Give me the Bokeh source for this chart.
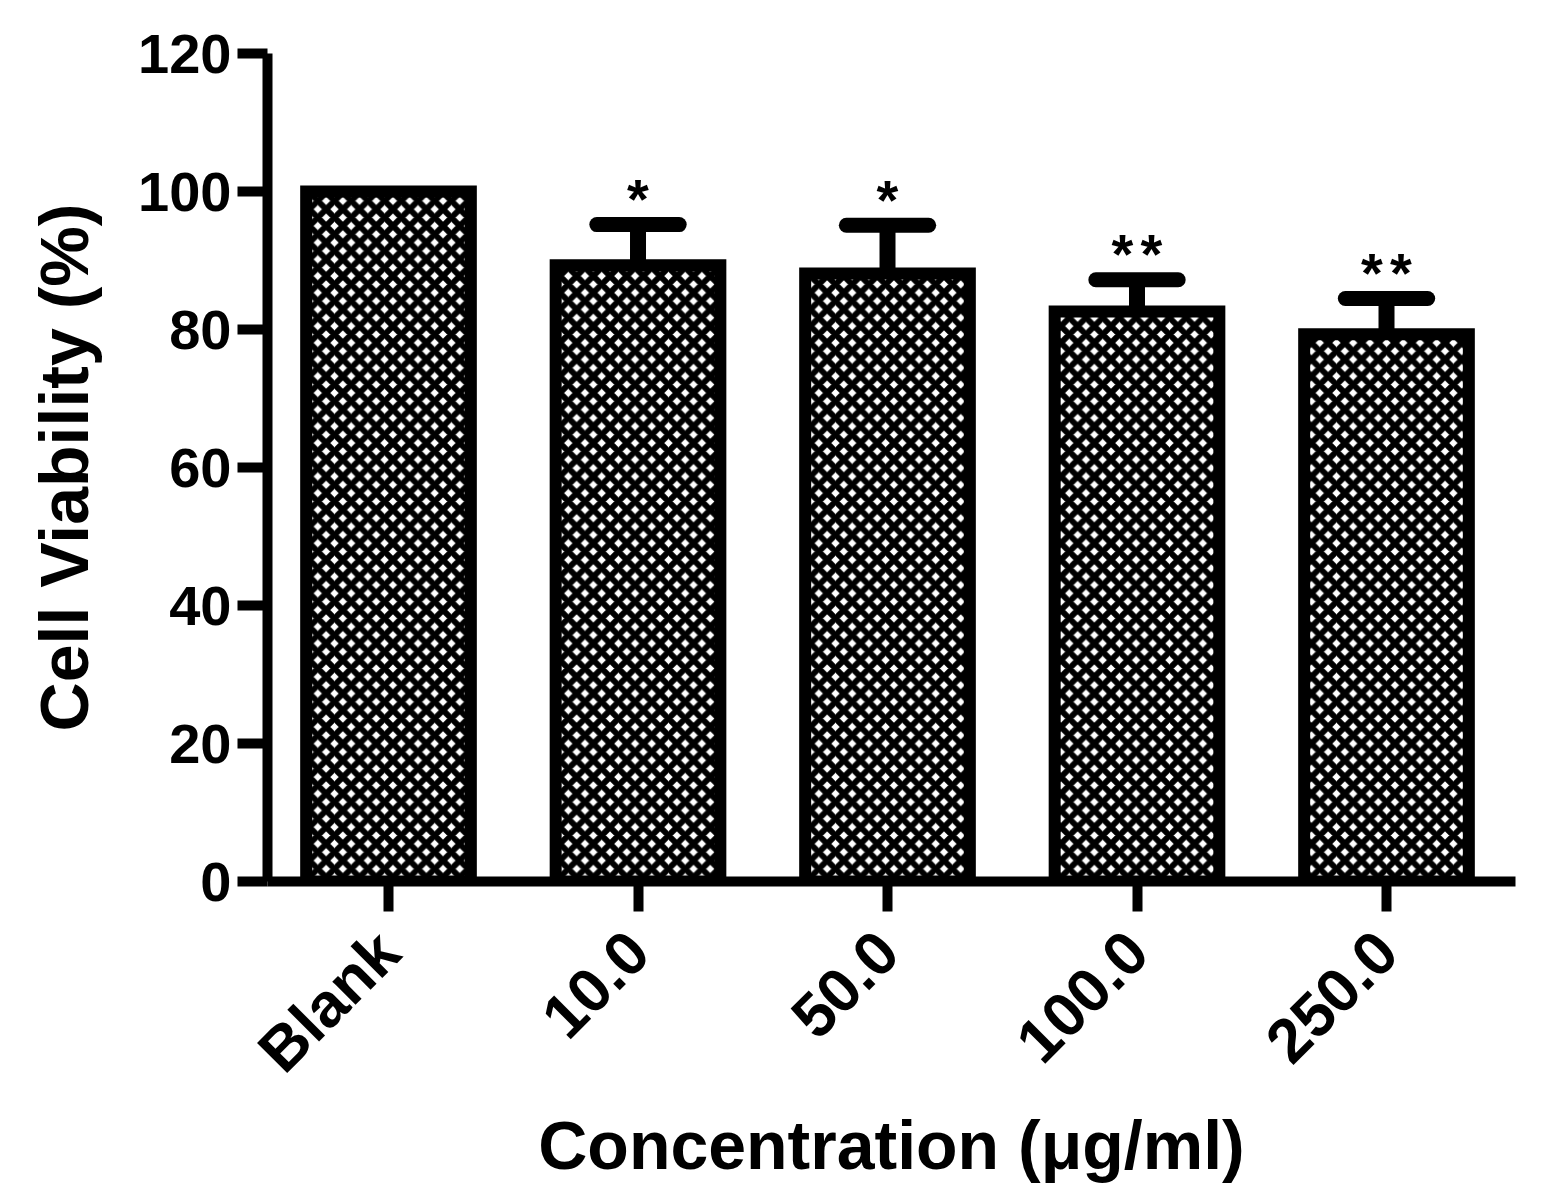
import math
from bokeh.plotting import figure
from bokeh.models import FixedTicker, Range1d, ColumnDataSource
from bokeh.core.properties import value
from bokeh.embed import file_html
from bokeh.resources import INLINE

categories = ["Blank", "10.0", "50.0", "100.0", "250.0"]
viability = [100.0, 89.3, 88.1, 82.6, 79.3]
sd = [0.0, 5.9, 7.0, 4.6, 5.2]
significance = ["", "*", "*", "**", "**"]
y_ticks = [0, 20, 40, 60, 80, 100, 120]

FONT = "Liberation Sans"

xs = list(range(len(categories)))
upper = [v + e for v, e in zip(viability, sd)]

p = figure(output_backend="svg", toolbar_location=None,
           frame_width=1248, frame_height=828,
           min_border_left=267, min_border_right=28,
           min_border_top=53, min_border_bottom=298,
           x_range=Range1d(-0.485, 4.517), y_range=Range1d(0, 120))
p.outline_line_color = None
p.xgrid.visible = False
p.ygrid.visible = False
p.background_fill_color = "white"
p.border_fill_color = "white"

# error bars (only where sd > 0)
eb_idx = [i for i in xs if sd[i] > 0]
eb = ColumnDataSource(dict(
    x=[xs[i] for i in eb_idx],
    y0=[viability[i] for i in eb_idx],
    y1=[upper[i] for i in eb_idx],
    xl=[xs[i] - 0.165 for i in eb_idx],
    xr=[xs[i] + 0.165 for i in eb_idx],
))
p.segment(x0="x", y0="y0", x1="x", y1="y1", source=eb, line_color="black",
          line_width=16)
p.segment(x0="xl", y0="y1", x1="xr", y1="y1", source=eb, line_color="black",
          line_width=15, line_cap="round")

bars = ColumnDataSource(dict(x=xs, top=viability))
p.vbar(x="x", top="top", bottom=0, width=0.66, source=bars,
       fill_color="white", hatch_pattern="x", hatch_color="black",
       hatch_scale=16.7, hatch_weight=6,
       line_color="black", line_width=12, line_join="miter")

# significance stars, one glyph per star, spread around the bar centre
sx, sy, so = [], [], []
for i in xs:
    n = len(significance[i])
    for k in range(n):
        sx.append(xs[i])
        sy.append(upper[i])
        so.append((k - (n - 1) / 2) * 29)
stars = ColumnDataSource(dict(x=sx, y=sy, off=so, t=["*"] * len(sx)))
p.text(x="x", y="y", text="t", x_offset="off", source=stars,
       text_align="center", text_baseline="alphabetic", y_offset=-26,
       text_font=value(FONT), text_font_style="bold",
       text_font_size="56px", text_color="black")

for ax in (p.xaxis[0], p.yaxis[0]):
    ax.axis_line_width = 10
    ax.axis_line_color = "black"
    ax.major_tick_line_width = 10
    ax.major_tick_line_color = "black"
    ax.major_tick_out = 30
    ax.major_tick_in = 0
    ax.minor_tick_line_color = None
    ax.major_label_text_font = FONT
    ax.major_label_text_font_style = "bold"
    ax.major_label_text_font_size = "56px"
    ax.major_label_text_color = "black"
    ax.axis_label_text_font = FONT
    ax.axis_label_text_font_style = "bold"
    ax.axis_label_text_font_size = "68px"
    ax.axis_label_text_color = "black"

p.yaxis.ticker = FixedTicker(ticks=y_ticks)
p.yaxis.major_label_standoff = 6
p.yaxis.axis_label = "Cell Viability (%)"
p.yaxis.axis_label_standoff = 33

p.xaxis.ticker = FixedTicker(ticks=xs)
p.xaxis.major_label_overrides = {i: c for i, c in zip(xs, categories)}
p.xaxis.major_label_orientation = math.pi / 4
p.xaxis.major_label_text_font_size = "62px"
p.xaxis.major_label_standoff = 30
p.xaxis.axis_label = "Concentration (μg/ml)"
p.xaxis.axis_label_standoff = -6

open("out.html", "w").write(file_html(p, INLINE))
